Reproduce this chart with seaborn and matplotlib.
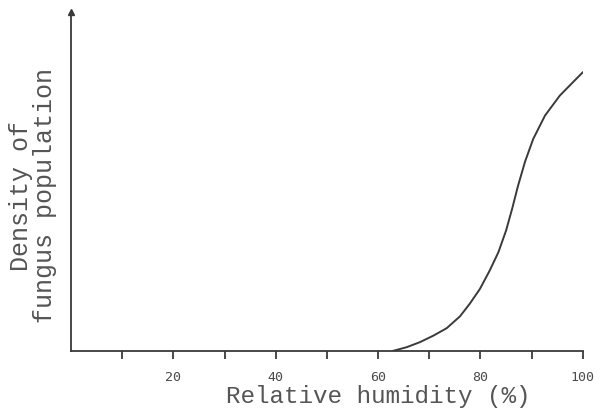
import matplotlib
matplotlib.use("Agg")
import matplotlib.pyplot as plt
import seaborn as sns
import pandas as pd

# Data (arbitrary density units, 0-100 scale)
humidity = [62.9, 65.6, 68.2, 70.8, 73.4, 76.0, 77.9, 79.9, 81.8, 83.5,
            85.0, 86.2, 87.3, 88.7, 90.3, 92.6, 95.5, 98.1, 100.0]
density = [0.0, 1.1, 2.6, 4.5, 6.7, 10.2, 13.9, 18.3, 23.7, 29.1,
           35.5, 42.0, 48.5, 55.8, 62.5, 69.4, 75.3, 79.3, 82.2]
tick_positions = [10, 20, 30, 40, 50, 60, 70, 80, 90, 100]
tick_labels = ["", "20", "", "40", "", "60", "", "80", "", "100"]

sns.set_style("white")
plt.rcParams['font.family'] = ['Liberation Mono', 'DejaVu Sans Mono']

df = pd.DataFrame({"humidity": humidity, "density": density})

fig = plt.figure(figsize=(6.04, 4.14), dpi=100)
ax = fig.add_axes([0.1175, 0.150, 0.8475, 0.819])

sns.lineplot(data=df, x="humidity", y="density", ax=ax, color="#3a3a3a",
             linewidth=1.4, estimator=None, sort=True)

ax.set_xlim(0, 100)
ax.set_ylim(0, 100)

for s in ["top", "right"]:
    ax.spines[s].set_visible(False)
for s in ["left", "bottom"]:
    ax.spines[s].set_color("#3a3a3a")
    ax.spines[s].set_linewidth(1.3)

ax.set_yticks([])
ax.set_xticks(tick_positions)
ax.set_xticklabels(tick_labels, fontsize=9.5, color="#4a4a4a",
                   family=['DejaVu Sans Mono'])
ax.tick_params(axis="x", direction="out", length=6, width=1.3,
               color="#3a3a3a", pad=8, bottom=True)

# arrow head on y axis
ax.plot([0], [1], marker="^", color="#3a3a3a", markersize=5,
        transform=ax.transAxes, clip_on=False)

ax.set_xlabel("Relative humidity (%)", fontsize=17.5, color="#555555")
ax.xaxis.set_label_coords(0.600, -0.098)
ax.set_ylabel("Density of\nfungus population", fontsize=18, color="#555555",
              linespacing=1.0)
ax.yaxis.set_label_coords(-0.028, 0.46)

fig.savefig("out.png", dpi=100)
